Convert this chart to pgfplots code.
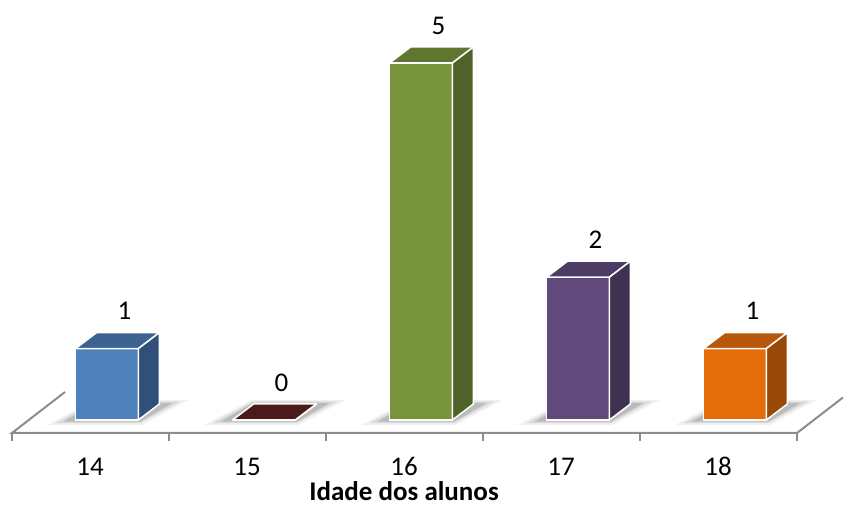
\documentclass[border=0pt]{standalone}
\usepackage{fontspec}
\setmainfont{Carlito}
\usepackage{pgfplots}
\pgfplotsset{compat=1.18}

\definecolor{floorline}{HTML}{8C8C8C}
\definecolor{bluefront}{HTML}{4F81BD}
\definecolor{bluetop}{HTML}{3B6290}
\definecolor{blueside}{HTML}{30507A}
\definecolor{redfront}{HTML}{4B1A1A}
\definecolor{redtop}{HTML}{4B1A1A}
\definecolor{redside}{HTML}{3A1414}
\definecolor{greenfront}{HTML}{77933C}
\definecolor{greentop}{HTML}{5F7630}
\definecolor{greenside}{HTML}{4F6228}
\definecolor{purplefront}{HTML}{604A7B}
\definecolor{purpletop}{HTML}{4D3C64}
\definecolor{purpleside}{HTML}{3F3151}
\definecolor{orangefront}{HTML}{E46C0A}
\definecolor{orangetop}{HTML}{B75709}
\definecolor{orangeside}{HTML}{984807}

% one 3-D column: #1 position, #2 value, #3 front, #4 top, #5 side colour
\newcommand{\cubebar}[5]{%
  % soft floor shadow
  \fill[black, opacity=0.06] (axis cs:{#1-0.38},-0.07) -- (axis cs:{#1+0.22},-0.07) -- (axis cs:{#1+0.52},0.28) -- (axis cs:{#1-0.08},0.28) -- cycle;
  \fill[black, opacity=0.09] (axis cs:{#1-0.33},-0.045) -- (axis cs:{#1+0.21},-0.045) -- (axis cs:{#1+0.47},0.26) -- (axis cs:{#1-0.07},0.26) -- cycle;
  \fill[black, opacity=0.14] (axis cs:{#1-0.28},-0.025) -- (axis cs:{#1+0.21},-0.025) -- (axis cs:{#1+0.42},0.24) -- (axis cs:{#1-0.07},0.24) -- cycle;
  % front face
  \addplot[ybar, bar shift=0pt, bar width=0.4, fill=#3, draw=white, line width=0.75pt] coordinates {(#1,#2)};
  % top face
  \fill[#4, draw=white, line width=0.75pt, line join=round] (axis cs:{#1-0.2},{#2}) -- (axis cs:{#1+0.2},{#2}) -- (axis cs:{#1+0.334},{#2+0.224}) -- (axis cs:{#1-0.066},{#2+0.224}) -- cycle;
  % side face
  \fill[#5, draw=white, line width=0.75pt, line join=round] (axis cs:{#1+0.2},0) -- (axis cs:{#1+0.334},0.224) -- (axis cs:{#1+0.334},{#2+0.224}) -- (axis cs:{#1+0.2},{#2}) -- cycle;
  % value label
  \node[inner sep=0pt, font=\fontsize{13.5}{16}\selectfont] at (axis cs:{#1+0.111},{#2+0.525}) {#2};
}

\begin{document}
\begin{tikzpicture}
\begin{axis}[
  x=78.5pt, y=35.7pt,
  xmin=-0.6815, xmax=4.694,
  ymin=-1.2045, ymax=5.882,
  hide axis,
  clip=false,
]
\path (rel axis cs:0,0) rectangle (rel axis cs:1,1);

% floor outline
\draw[floorline, line width=1pt] (axis cs:-0.2675,0.392) -- (axis cs:-0.605,-0.182) -- (axis cs:4.395,-0.182) -- (axis cs:4.688,0.315);
\pgfplotsinvokeforeach{-0.605,0.395,1.395,2.395,3.395,4.395}{
  \draw[floorline, line width=1pt] (axis cs:#1,-0.182) -- (axis cs:#1,-0.294);
}

\cubebar{0}{1}{bluefront}{bluetop}{blueside}
\cubebar{1}{0}{redfront}{redtop}{redside}
\cubebar{2}{5}{greenfront}{greentop}{greenside}
\cubebar{3}{2}{purplefront}{purpletop}{purpleside}
\cubebar{4}{1}{orangefront}{orangetop}{orangeside}

% category labels and axis title
\node[inner sep=0pt, font=\fontsize{13.5}{16}\selectfont] at (axis cs:-0.108,-0.651) {14};
\node[inner sep=0pt, font=\fontsize{13.5}{16}\selectfont] at (axis cs:0.892,-0.651) {15};
\node[inner sep=0pt, font=\fontsize{13.5}{16}\selectfont] at (axis cs:1.892,-0.651) {16};
\node[inner sep=0pt, font=\fontsize{13.5}{16}\selectfont] at (axis cs:2.892,-0.651) {17};
\node[inner sep=0pt, font=\fontsize{13.5}{16}\selectfont] at (axis cs:3.892,-0.651) {18};
\node[inner sep=0pt, font=\fontsize{13.5}{16}\selectfont\bfseries] at (axis cs:1.892,-0.99) {Idade dos alunos};
\end{axis}
\end{tikzpicture}
\end{document}
